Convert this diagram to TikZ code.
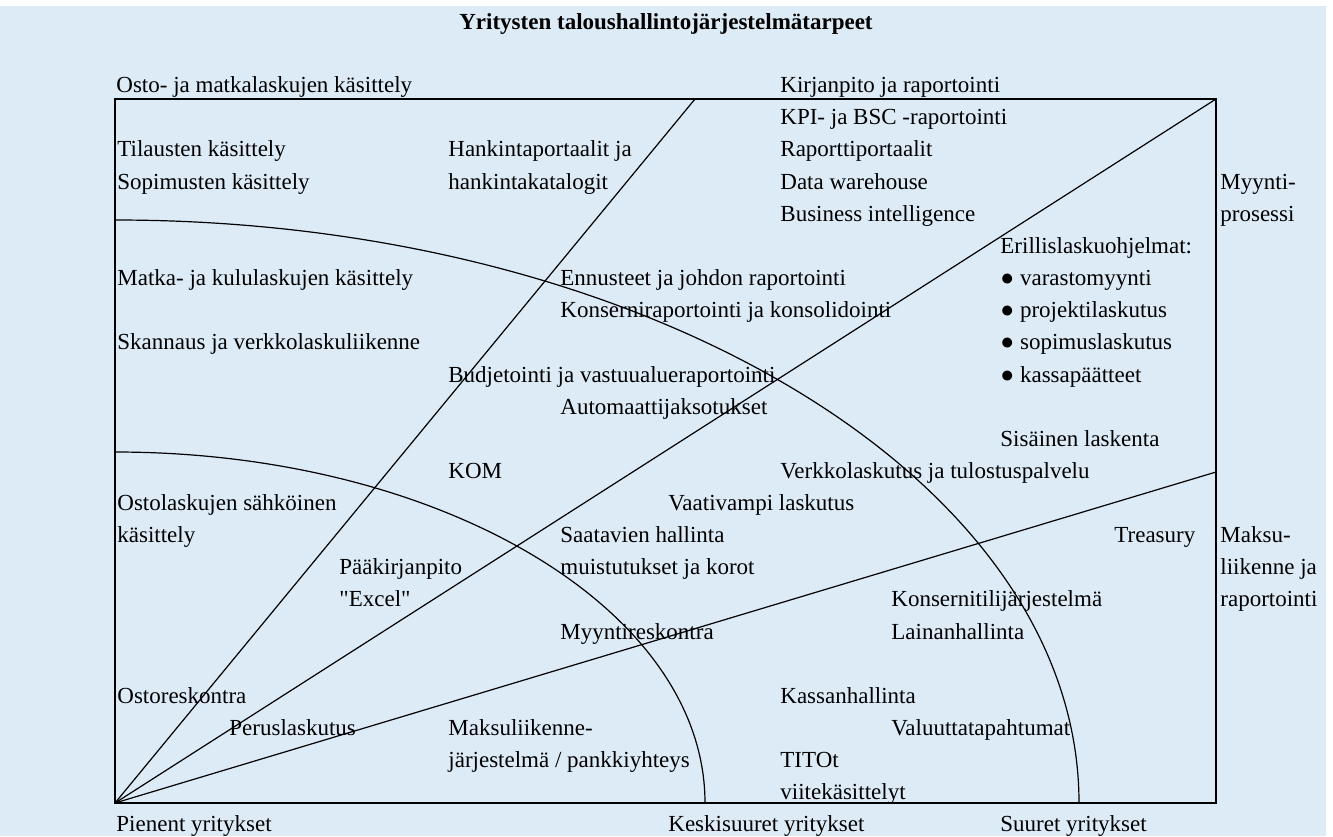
\documentclass[tikz,border=0pt]{standalone}
\usepackage{fontspec}
\setmainfont{Liberation Serif}[Ligatures=TeXOff]
\usepackage{tikz}
\usepackage{xcolor}
\definecolor{taustasin}{RGB}{221,235,247}

\begin{document}
\begin{tikzpicture}[x=0.5pt,y=-0.5pt]
\tikzstyle{every node}+=[inner sep=0pt]
\tikzstyle{teksti}=[anchor=west, text height=7.5pt, text depth=0pt, font=\fontsize{11.5}{13}\selectfont]
\tikzstyle{raja}=[black, line width=1pt]
\tikzstyle{viiva}=[black, line width=0.6pt]
\useasboundingbox (0,0) rectangle (1333,836);
\fill [white] (0,0) rectangle (1333,836);
\fill [taustasin] (0,6) rectangle (1326,836);
\coordinate (origo) at (115,803);
\coordinate (ylaoik) at (1216,99);
\coordinate (yla1) at (695,99);
\coordinate (oik3) at (1216,472);
\coordinate (vasA) at (115,220);
\coordinate (vasB) at (115,452);
\draw [raja] (origo) rectangle (ylaoik);
\draw [viiva] (origo) -- (yla1);
\draw [viiva] (origo) -- (ylaoik);
\draw [viiva] (origo) -- (oik3);
\draw [viiva] (vasA) arc[start angle=90, end angle=0, x radius=482pt, y radius=291.5pt];
\draw [viiva] (vasB) arc[start angle=90, end angle=0, x radius=295pt, y radius=175.5pt];
\node (otsikko) at (666,22) [teksti, anchor=center, font=\fontsize{11.5}{13}\selectfont\bfseries] {Yritysten taloushallintojärjestelmätarpeet};
\node (osto) at (116,85) [teksti] {Osto- ja matkalaskujen käsittely};
\node (kirjanpito) at (780,85) [teksti] {Kirjanpito ja raportointi};
\node (kpi) at (780,117) [teksti] {KPI- ja BSC -raportointi};
\node (tilaus) at (117,149) [teksti] {Tilausten käsittely};
\node (hankinta1) at (448,149) [teksti] {Hankintaportaalit ja};
\node (portaalit) at (780,149) [teksti] {Raporttiportaalit};
\node (sopimus) at (117,182) [teksti] {Sopimusten käsittely};
\node (hankinta2) at (448,182) [teksti] {hankintakatalogit};
\node (dw) at (780,182) [teksti] {Data warehouse};
\node (myynti1) at (1220,182) [teksti] {Myynti-};
\node (bi) at (780,214) [teksti] {Business intelligence};
\node (myynti2) at (1220,214) [teksti] {prosessi};
\node (erillis) at (1000,246) [teksti] {Erillislaskuohjelmat:};
\node (matka) at (117,278) [teksti] {Matka- ja kululaskujen käsittely};
\node (ennuste) at (560,278) [teksti] {Ennusteet ja johdon raportointi};
\node (varasto) at (1000,278) [teksti] {● varastomyynti};
\node (konserni) at (560,310) [teksti] {Konserniraportointi ja konsolidointi};
\node (projekti) at (1000,310) [teksti] {● projektilaskutus};
\node (skannaus) at (117,342) [teksti] {Skannaus ja verkkolaskuliikenne};
\node (sopimusl) at (1000,342) [teksti] {● sopimuslaskutus};
\node (budjetti) at (448,375) [teksti] {Budjetointi ja vastuualueraportointi};
\node (kassap) at (1000,375) [teksti] {● kassapäätteet};
\node (automaatti) at (560,407) [teksti] {Automaattijaksotukset};
\node (sisainen) at (1000,439) [teksti] {Sisäinen laskenta};
\node (kom) at (448,471) [teksti] {KOM};
\node (verkko) at (780,471) [teksti] {Verkkolaskutus ja tulostuspalvelu};
\node (ostolasku1) at (117,503) [teksti] {Ostolaskujen sähköinen};
\node (vaativampi) at (668,503) [teksti] {Vaativampi laskutus};
\node (ostolasku2) at (117,535) [teksti] {käsittely};
\node (saatava1) at (560,535) [teksti] {Saatavien hallinta};
\node (treasury) at (1114,535) [teksti] {Treasury};
\node (maksu1) at (1220,535) [teksti] {Maksu-};
\node (paakirja1) at (339,567) [teksti] {Pääkirjanpito};
\node (saatava2) at (560,567) [teksti] {muistutukset ja korot};
\node (maksu2) at (1220,567) [teksti] {liikenne ja};
\node (paakirja2) at (339,599) [teksti] {"Excel"};
\node (konsernitili) at (891,599) [teksti] {Konsernitilijärjestelmä};
\node (maksu3) at (1220,599) [teksti] {raportointi};
\node (myyntires) at (560,632) [teksti] {Myyntireskontra};
\node (laina) at (891,632) [teksti] {Lainanhallinta};
\node (ostores) at (117,696) [teksti] {Ostoreskontra};
\node (kassa) at (780,696) [teksti] {Kassanhallinta};
\node (perus) at (229,728) [teksti] {Peruslaskutus};
\node (maksuliik1) at (448,728) [teksti] {Maksuliikenne-};
\node (valuutta) at (891,728) [teksti] {Valuuttatapahtumat};
\node (maksuliik2) at (448,760) [teksti] {järjestelmä / pankkiyhteys};
\node (tito) at (780,760) [teksti] {TITOt};
\node (viite) at (780,792) [teksti] {viitekäsittelyt};
\node (pienet) at (116,824) [teksti] {Pienent yritykset};
\node (keski) at (668,824) [teksti] {Keskisuuret yritykset};
\node (suuret) at (1000,824) [teksti] {Suuret yritykset};
\end{tikzpicture}
\end{document}
